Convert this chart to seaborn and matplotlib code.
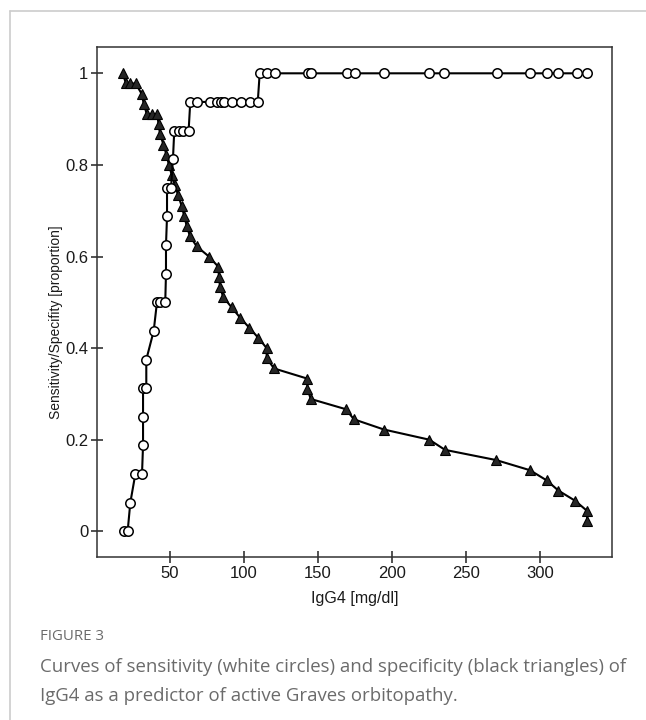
import matplotlib
matplotlib.use("Agg")
import matplotlib.pyplot as plt
import seaborn as sns
import pandas as pd
from matplotlib.lines import Line2D

# ---------------- data ----------------
sens_x = [18.9, 21.6, 23.4, 26.8, 31.3, 32.0, 32.0, 32.0, 34.2, 34.2, 39.2,
          41.4, 43.6, 47.0, 47.5, 47.5, 48.2, 48.2, 50.9, 52.2,
          53.1, 56.1, 59.0, 62.8,
          63.9, 68.4, 77.4, 81.9, 84.7, 86.9, 92.1, 98.2, 104.0, 109.5,
          110.8, 115.7, 121.4, 143.6, 145.2, 169.6, 175.2, 195.0, 225.4,
          235.5, 270.9, 293.4, 304.6, 312.5, 325.0, 332.0]
sens_k = [0, 0, 1, 2, 2, 3, 4, 5, 5, 6, 7,
          8, 8, 8, 9, 10, 11, 12, 12, 13,
          14, 14, 14, 14,
          15, 15, 15, 15, 15, 15, 15, 15, 15, 15,
          16, 16, 16, 16, 16, 16, 16, 16, 16,
          16, 16, 16, 16, 16, 16, 16]
n_pos = 16

spec_x = [18.2, 20.5, 23.5, 27.0, 31.0, 32.5, 34.5, 38.0, 41.5, 42.5, 43.5,
          45.8, 47.8, 49.5, 51.4, 53.5, 55.8, 58.0, 59.8, 61.5, 63.7, 68.2,
          76.5, 82.8, 83.3, 84.0, 86.2, 91.9, 97.5, 103.8, 109.9, 115.5,
          115.5, 120.5, 143.0, 143.0, 145.3, 168.9, 174.5, 194.7, 225.4,
          236.0, 270.5, 293.4, 304.7, 312.6, 323.9, 332.0, 332.0]
spec_k = [45, 44, 44, 44, 43, 42, 41, 41, 41, 40, 39,
          38, 37, 36, 35, 34, 33, 32, 31, 30, 29, 28,
          27, 26, 25, 24, 23, 22, 21, 20, 19, 18,
          17, 16, 15, 14, 13, 12, 11, 10, 9,
          8, 7, 6, 5, 4, 3, 2, 1]
n_neg = 45

x_ticks = [50, 100, 150, 200, 250, 300]
y_ticks = [0, 0.2, 0.4, 0.6, 0.8, 1.0]
y_tick_labels = ["0", "0.2", "0.4", "0.6", "0.8", "1"]
x_label = "IgG4 [mg/dl]"
y_label = "Sensitivity/Specifity [proportion]"
fig_label = "FIGURE 3"
caption_lines = ["Curves of sensitivity (white circles) and specificity (black triangles) of",
                 "IgG4 as a predictor of active Graves orbitopathy."]

sens_df = pd.DataFrame({"x": sens_x, "y": [k / n_pos for k in sens_k]})
spec_df = pd.DataFrame({"x": spec_x, "y": [k / n_neg for k in spec_k]})

# ---------------- style ----------------
sns.set_theme(style="white")
plt.rcParams["font.family"] = ["Liberation Sans Narrow", "Liberation Sans", "DejaVu Sans"]

W, H = 646, 720
fig = plt.figure(figsize=(W / 100, H / 100), dpi=100)
fig.patch.set_facecolor("white")

L, R, T, B = 97.3, 611.7, 47.3, 557.3
ax = fig.add_axes([L / W, 1 - B / H, (R - L) / W, (B - T) / H])
ax.set_facecolor("white")

sns.lineplot(data=spec_df, x="x", y="y", ax=ax, sort=False, estimator=None,
             color="black", linewidth=1.5, marker="^", markersize=7.0,
             markerfacecolor="#262626", markeredgecolor="black",
             markeredgewidth=0.8, zorder=2)
sns.lineplot(data=sens_df, x="x", y="y", ax=ax, sort=False, estimator=None,
             color="black", linewidth=1.5, marker="o", markersize=6.8,
             markerfacecolor="white", markeredgecolor="black",
             markeredgewidth=1.1, zorder=3)

ax.set_xlim(1.1, 348.6)
ax.set_ylim(-0.0568, 1.0568)
ax.set_xticks(x_ticks)
ax.set_xticklabels([str(t) for t in x_ticks])
ax.set_yticks(y_ticks)
ax.set_yticklabels(y_tick_labels)
ax.tick_params(axis="both", direction="inout", length=9, width=1.1,
               color="#222222", labelsize=12, labelcolor="#1a1a1a", pad=2,
               bottom=True, left=True)
for s in ax.spines.values():
    s.set_color("#333333")
    s.set_linewidth(1.1)
ax.set_xlabel("")
ax.set_ylabel("")

fig.text(355 / W, 1 - 599 / H, x_label, ha="center", va="center",
         fontsize=11.5, color="#1a1a1a")
fig.text(56 / W, 1 - 322 / H, y_label, ha="center", va="center",
         rotation=90, fontsize=10, color="#1a1a1a")

# ---------------- page frame & caption ----------------
fig.add_artist(Line2D([10 / W, 1.0], [1 - 11 / H, 1 - 11 / H],
                      transform=fig.transFigure, color="#cccccc", lw=1.2))
fig.add_artist(Line2D([10 / W, 10 / W], [1 - 11 / H, 0.0],
                      transform=fig.transFigure, color="#cccccc", lw=1.2))

cap_font = ["Open Sans", "DejaVu Sans"]
fig.text(40 / W, 1 - 637 / H, fig_label, ha="left", va="center",
         fontsize=10.8, color="#6b6b6b", family=cap_font)
t1 = fig.text(40 / W, 1 - 667 / H, caption_lines[0], ha="left", va="center",
              fontsize=12, color="#6b6b6b", family=cap_font)
t2 = fig.text(40 / W, 1 - 696 / H, caption_lines[1], ha="left", va="center",
              fontsize=12, color="#6b6b6b", family=cap_font)

fig.canvas.draw()
r = fig.canvas.get_renderer()
w1 = t1.get_window_extent(r).width
fs = 12 * 581 / w1
t1.set_fontsize(fs)
t2.set_fontsize(fs)

fig.savefig("out.png", dpi=100, facecolor="white")
